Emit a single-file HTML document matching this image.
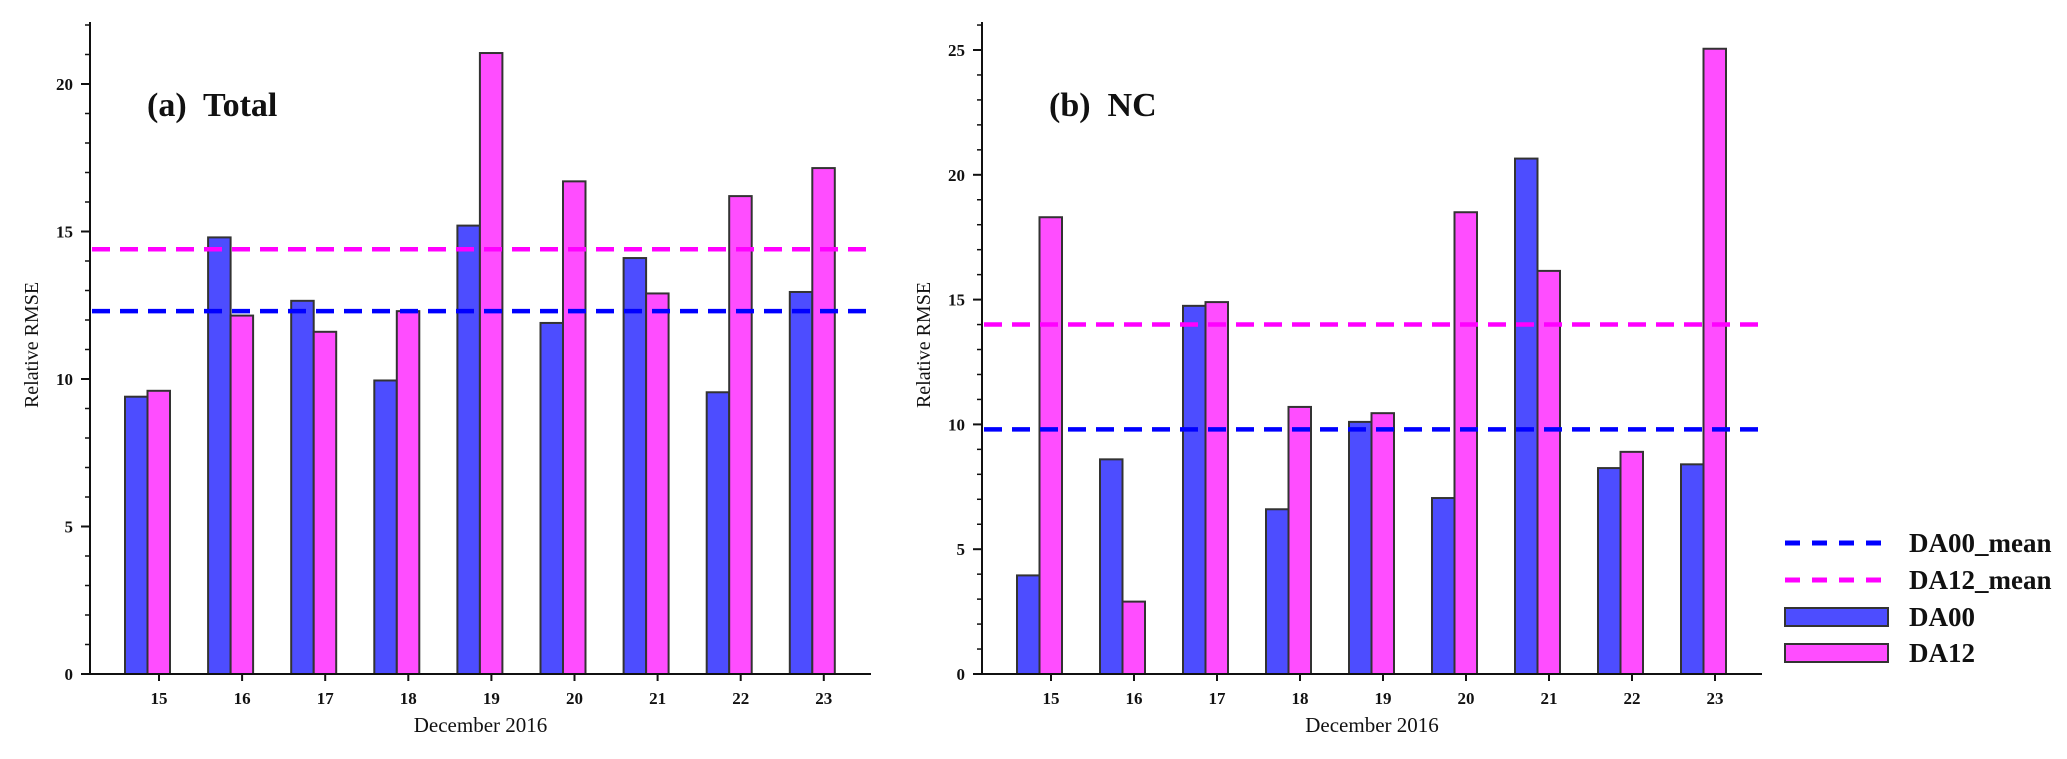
<!DOCTYPE html>
<html><head><meta charset="utf-8"><style>
html,body{margin:0;padding:0;background:#fff;}
svg{display:block;}
text{font-family:"Liberation Serif",serif;fill:#111;}
.tick{font-weight:bold;font-size:17px;}
.ptitle{white-space:pre;}
</style></head><body>
<svg id="chart" width="2067" height="759" viewBox="0 0 2067 759" xmlns="http://www.w3.org/2000/svg">
<g id="legend">
  <line x1="1785" y1="543" x2="1886" y2="543" stroke="#0000ff" stroke-width="5" stroke-dasharray="15 12"/>
  <text x="1909" y="552" font-size="27" font-weight="bold">DA00_mean</text>
  <line x1="1785" y1="580" x2="1886" y2="580" stroke="#ff00ff" stroke-width="5" stroke-dasharray="15 12"/>
  <text x="1909" y="589" font-size="27" font-weight="bold">DA12_mean</text>
  <rect x="1785" y="608" width="103" height="18" fill="#4d4dff" stroke="#333" stroke-width="2"/>
  <text x="1909" y="626" font-size="27" font-weight="bold">DA00</text>
  <rect x="1785" y="644" width="103" height="18" fill="#ff4dff" stroke="#333" stroke-width="2"/>
  <text x="1909" y="662" font-size="27" font-weight="bold">DA12</text>
</g>
</svg>
<script>
const days = ["15","16","17","18","19","20","21","22","23"];
const totalDA00 = [9.4,14.8,12.65,9.95,15.2,11.9,14.1,9.55,12.95];
const totalDA12 = [9.6,12.15,11.6,12.3,21.05,16.7,12.9,16.2,17.15];
const totalMeanDA00 = 12.3;
const totalMeanDA12 = 14.4;
const totalTicks = [0,5,10,15,20];
const ncDA00 = [3.95,8.6,14.75,6.6,10.1,7.05,20.65,8.25,8.4];
const ncDA12 = [18.3,2.9,14.9,10.7,10.45,18.5,16.15,8.9,25.05];
const ncMeanDA00 = 9.8;
const ncMeanDA12 = 14.0;
const ncTicks = [0,5,10,15,20,25];

const NS = "http://www.w3.org/2000/svg";
const svg = document.getElementById('chart');
function mk(tag, attrs, parent, txt){
  const e = document.createElementNS(NS, tag);
  for (const k in attrs) e.setAttribute(k, attrs[k]);
  if (txt !== undefined) e.textContent = txt;
  parent.appendChild(e);
  return e;
}

function panel(cfg){
  const g = mk('g', {}, svg);
  
  
  const y = v => cfg.y0 - v * cfg.ppu;
  const x = i => cfg.firstTick + i * cfg.step;
  cfg.a.forEach((v,i)=>{
    const r = mk('rect', {x:x(i)-34, y:y(v), width:22.5, height:cfg.y0-y(v), fill:'#4d4dff', stroke:'#333', 'stroke-width':2}, g);
    
    
  });
  cfg.b.forEach((v,i)=>{
    const r = mk('rect', {x:x(i)-11.5, y:y(v), width:22.5, height:cfg.y0-y(v), fill:'#ff4dff', stroke:'#333', 'stroke-width':2}, g);
    
    
  });
  const m1 = mk('line', {x1:cfg.axL+2, x2:cfg.axR, y1:y(cfg.mA), y2:y(cfg.mA), stroke:'#0000ff', 'stroke-width':4.5, 'stroke-dasharray':'18 10'}, g);
  
  
  const m2 = mk('line', {x1:cfg.axL+2, x2:cfg.axR, y1:y(cfg.mB), y2:y(cfg.mB), stroke:'#ff00ff', 'stroke-width':4.5, 'stroke-dasharray':'18 10'}, g);
  
  
  const ya = mk('line', {x1:cfg.axL, x2:cfg.axL, y1:cfg.y0, y2:cfg.top, stroke:'#111', 'stroke-width':2}, g);
  
  
  const xa = mk('line', {x1:cfg.axL-9, x2:cfg.axR, y1:cfg.y0, y2:cfg.y0, stroke:'#111', 'stroke-width':2}, g);
  
  
  for (let v=1; v<=cfg.max; v++){
    if (v % 5 === 0) continue;
    mk('line', {x1:cfg.axL-5, x2:cfg.axL, y1:y(v), y2:y(v), stroke:'#111', 'stroke-width':1.5}, g);
  }
  cfg.ticks.forEach(t=>{
    mk('line', {x1:cfg.axL-9, x2:cfg.axL, y1:y(t), y2:y(t), stroke:'#111', 'stroke-width':2}, g);
    const l = mk('text', {x:cfg.axL-17, y:y(t)+6, 'text-anchor':'end', class:'tick'}, g, t);
    
    
  });
  days.forEach((d,i)=>{
    mk('line', {x1:x(i), x2:x(i), y1:cfg.y0, y2:cfg.y0+7, stroke:'#111', 'stroke-width':2}, g);
    const l = mk('text', {x:x(i), y:cfg.y0+30, 'text-anchor':'middle', class:'tick'}, g, d);
    
    
  });
  const xt = mk('text', {x:(cfg.axL+cfg.axR)/2, y:732, 'text-anchor':'middle', 'font-size':21}, g, 'December 2016');
  
  
  const yt = mk('text', {x:0, y:0, 'text-anchor':'middle', 'font-size':20, transform:`translate(${cfg.axL-52},345) rotate(-90)`}, g, 'Relative RMSE');
  
  
  const pt = mk('text', {x:cfg.titleX, y:116, 'font-size':34, 'font-weight':'bold', class:'ptitle'}, g, cfg.title);
  
  
}

panel({name:'panel-total', a:totalDA00, b:totalDA12, mA:totalMeanDA00, mB:totalMeanDA12, ticks:totalTicks,
  y0:674, ppu:29.5, top:22, max:22, axL:90, axR:871, firstTick:159, step:83.1, title:'(a)  Total', titleX:147});
panel({name:'panel-nc', a:ncDA00, b:ncDA12, mA:ncMeanDA00, mB:ncMeanDA12, ticks:ncTicks,
  y0:674, ppu:24.96, top:22, max:26, axL:982, axR:1762, firstTick:1051, step:83.0, title:'(b)  NC', titleX:1049});
</script>
</body></html>
